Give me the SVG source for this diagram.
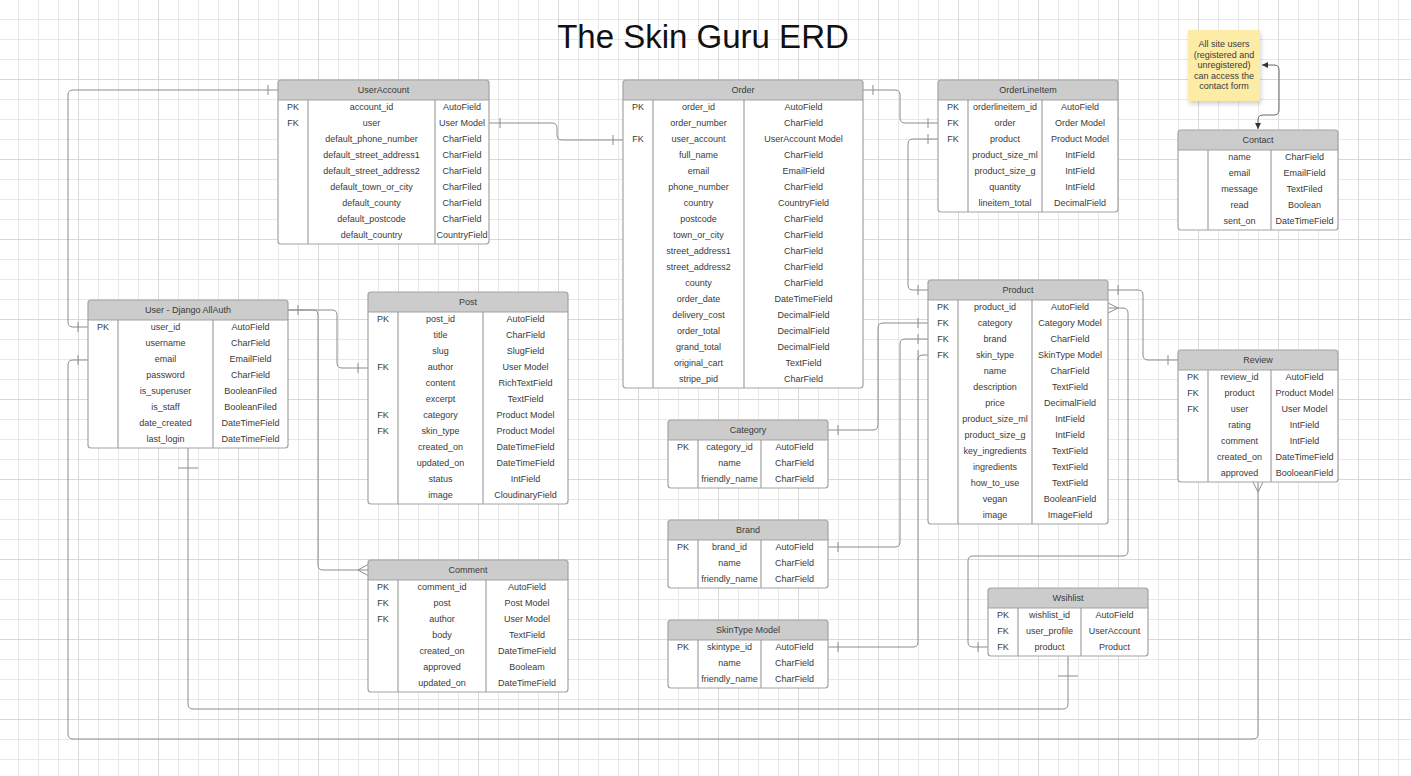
<svg xmlns="http://www.w3.org/2000/svg" width="1411" height="776" viewBox="0 0 1411 776">
<style>
.bg{fill:#fff}
.ol{fill:none;stroke:#a3a3a3;stroke-width:1.2}
.hd{fill:#cccccc}
.sep{stroke:#a3a3a3;stroke-width:1}
.col{stroke:#8f8f8f;stroke-width:1}
text{font-family:"Liberation Sans",Arial,sans-serif;font-size:9px;fill:#3a3a3a;text-anchor:middle}
.title{font-size:33px;fill:#111}
#connectors path,#connectors line{fill:none;stroke:#8c8c8c;stroke-width:1}
#connectors path.note{stroke:#666}
</style>
<defs>
<pattern id="grid" x="-2" y="-1" width="80" height="80" patternUnits="userSpaceOnUse">
<rect x="20" y="0" width="1" height="80" fill="#e8e8e8"/>
<rect x="40" y="0" width="1" height="80" fill="#e8e8e8"/>
<rect x="60" y="0" width="1" height="80" fill="#e8e8e8"/>
<rect x="0" y="20" width="80" height="1" fill="#e8e8e8"/>
<rect x="0" y="40" width="80" height="1" fill="#e8e8e8"/>
<rect x="0" y="60" width="80" height="1" fill="#e8e8e8"/>
<rect x="0" y="0" width="1" height="80" fill="#d9d9d9"/>
<rect x="0" y="0" width="80" height="1" fill="#d9d9d9"/>
</pattern>
<marker id="arr" markerWidth="6" markerHeight="6" refX="6" refY="3" orient="auto-start-reverse" markerUnits="userSpaceOnUse">
<path d="M0,0 L6,3 L0,6 Z" fill="#333"/>
</marker>
<filter id="shadow" x="-20%" y="-20%" width="150%" height="150%">
<feDropShadow dx="1" dy="3" stdDeviation="2" flood-color="#000" flood-opacity="0.18"/>
</filter>
</defs>
<rect width="1411" height="776" fill="#fff"/>
<rect width="1411" height="776" fill="url(#grid)"/>

<text class="title" x="703" y="48">The Skin Guru ERD</text>

<g id="connectors">
<!-- C1 UserAccount -> User PK -->
<path d="M278,90 H73 Q68,90 68,95 V322 Q68,327 73,327 H88"/>
<line x1="268" y1="85" x2="268" y2="95"/>
<line x1="78" y1="322" x2="78" y2="332"/>
<!-- C2 User email -> Review -->
<path d="M88,360 H73 Q68,360 68,365 V734 Q68,739 73,739 H1253 Q1258,739 1258,734 V482"/>
<line x1="78" y1="355" x2="78" y2="365"/>
<path d="M1253,482 L1258,492 L1263,482"/>
<!-- C3 User bottom -> Wishlist bottom -->
<path d="M188,448 V704 Q188,709 193,709 H1063 Q1068,709 1068,704 V656"/>
<line x1="178" y1="468" x2="198" y2="468"/>
<line x1="1058" y1="676" x2="1078" y2="676"/>
<!-- C4 User -> Comment -->
<path d="M288,310 H313 Q318,310 318,315 V565 Q318,570 323,570 H368"/>
<line x1="298" y1="305" x2="298" y2="315"/>
<path d="M368,564.5 L358,570 L368,575.5"/>
<!-- C5 User -> Post author -->
<path d="M288,310 H332 Q337,310 337,315 V363 Q337,368 342,368 H368"/>
<line x1="358" y1="363" x2="358" y2="373"/>
<!-- C6 UserAccount user -> Order user_account -->
<path d="M489,123 H552 Q557,123 557,128 V135 Q557,140 562,140 H623"/>
<line x1="500" y1="118" x2="500" y2="128"/>
<line x1="613" y1="135" x2="613" y2="145"/>
<!-- C7 Order -> OrderLineItem order -->
<path d="M863,90 H895 Q900,90 900,95 V118 Q900,123 905,123 H938"/>
<line x1="873" y1="85" x2="873" y2="95"/>
<line x1="928" y1="118" x2="928" y2="128"/>
<!-- C8 OrderLineItem product -> Product -->
<path d="M938,139 H913 Q908,139 908,144 V285 Q908,290 913,290 H928"/>
<line x1="928" y1="134" x2="928" y2="144"/>
<line x1="918" y1="285" x2="918" y2="295"/>
<!-- C9 Category -> Product category -->
<path d="M828,430 H873 Q878,430 878,425 V328 Q878,323 883,323 H928"/>
<line x1="838" y1="425" x2="838" y2="435"/>
<line x1="918" y1="318" x2="918" y2="328"/>
<!-- C10 Brand -> Product brand -->
<path d="M828,547 H895 Q900,547 900,542 V344 Q900,339 905,339 H928"/>
<line x1="838" y1="542" x2="838" y2="552"/>
<line x1="918" y1="334" x2="918" y2="344"/>
<!-- C11 SkinType -> Product skin_type -->
<path d="M828,647 H913 Q918,647 918,642 V360 Q918,355 923,355 H928"/>
<line x1="838" y1="642" x2="838" y2="652"/>
<line x1="918" y1="350" x2="918" y2="360"/>
<!-- C12 Product -> Review -->
<path d="M1108,290 H1138 Q1143,290 1143,295 V355 Q1143,360 1148,360 H1178"/>
<line x1="1118" y1="285" x2="1118" y2="295"/>
<line x1="1168" y1="355" x2="1168" y2="365"/>
<!-- C13 Product -> Wishlist product -->
<path d="M1108,308 H1123 Q1128,308 1128,313 V551 Q1128,556 1123,556 H973 Q968,556 968,561 V642 Q968,647 973,647 H988"/>
<path d="M1108,303 L1118,308 L1108,313"/>
<line x1="978" y1="642" x2="978" y2="652"/>
<!-- Note <-> Contact -->
<path class="note" d="M1262,65 H1274 Q1279,65 1279,70 V110 Q1279,115 1274,115 H1263 Q1258,115 1258,120 V129" marker-start="url(#arr)" marker-end="url(#arr)"/>
</g>

<g id="note">
<rect x="1188" y="30" width="72" height="71" fill="#fdeca6" filter="url(#shadow)"/>
<text x="1224" y="47">All site users</text>
<text x="1224" y="57.5">(registered and</text>
<text x="1224" y="68">unregistered)</text>
<text x="1224" y="78.5">can access the</text>
<text x="1224" y="89">contact form</text>
</g>

<g id="useraccount">
<rect class="bg" x="278" y="80" width="211" height="164" rx="3"/>
<path class="hd" d="M278,100 V83 Q278,80 281,80 H486 Q489,80 489,83 V100 Z"/>
<line class="sep" x1="278" y1="100" x2="489" y2="100"/>
<line class="col" x1="308" y1="100" x2="308" y2="244"/>
<line class="col" x1="435" y1="100" x2="435" y2="244"/>
<rect class="ol" x="278" y="80" width="211" height="164" rx="3"/>
<text x="383.5" y="93">UserAccount</text>
<text x="293" y="110">PK</text><text x="371.5" y="110">account_id</text><text x="462" y="110">AutoField</text>
<text x="293" y="126">FK</text><text x="371.5" y="126">user</text><text x="462" y="126">User Model</text>
<text x="371.5" y="142">default_phone_number</text><text x="462" y="142">CharField</text>
<text x="371.5" y="158">default_street_address1</text><text x="462" y="158">CharField</text>
<text x="371.5" y="174">default_street_address2</text><text x="462" y="174">CharField</text>
<text x="371.5" y="190">default_town_or_city</text><text x="462" y="190">CharFiled</text>
<text x="371.5" y="206">default_county</text><text x="462" y="206">CharField</text>
<text x="371.5" y="222">default_postcode</text><text x="462" y="222">CharField</text>
<text x="371.5" y="238">default_country</text><text x="462" y="238">CountryField</text>
</g>

<g id="order">
<rect class="bg" x="623" y="80" width="240" height="308" rx="3"/>
<path class="hd" d="M623,100 V83 Q623,80 626,80 H860 Q863,80 863,83 V100 Z"/>
<line class="sep" x1="623" y1="100" x2="863" y2="100"/>
<line class="col" x1="653" y1="100" x2="653" y2="388"/>
<line class="col" x1="744" y1="100" x2="744" y2="388"/>
<rect class="ol" x="623" y="80" width="240" height="308" rx="3"/>
<text x="743" y="93">Order</text>
<text x="638" y="110">PK</text><text x="698.5" y="110">order_id</text><text x="803.5" y="110">AutoField</text>
<text x="698.5" y="126">order_number</text><text x="803.5" y="126">CharField</text>
<text x="638" y="142">FK</text><text x="698.5" y="142">user_account</text><text x="803.5" y="142">UserAccount Model</text>
<text x="698.5" y="158">full_name</text><text x="803.5" y="158">CharField</text>
<text x="698.5" y="174">email</text><text x="803.5" y="174">EmailField</text>
<text x="698.5" y="190">phone_number</text><text x="803.5" y="190">CharField</text>
<text x="698.5" y="206">country</text><text x="803.5" y="206">CountryField</text>
<text x="698.5" y="222">postcode</text><text x="803.5" y="222">CharField</text>
<text x="698.5" y="238">town_or_city</text><text x="803.5" y="238">CharField</text>
<text x="698.5" y="254">street_address1</text><text x="803.5" y="254">CharField</text>
<text x="698.5" y="270">street_address2</text><text x="803.5" y="270">CharField</text>
<text x="698.5" y="286">county</text><text x="803.5" y="286">CharField</text>
<text x="698.5" y="302">order_date</text><text x="803.5" y="302">DateTimeField</text>
<text x="698.5" y="318">delivery_cost</text><text x="803.5" y="318">DecimalField</text>
<text x="698.5" y="334">order_total</text><text x="803.5" y="334">DecimalField</text>
<text x="698.5" y="350">grand_total</text><text x="803.5" y="350">DecimalField</text>
<text x="698.5" y="366">original_cart</text><text x="803.5" y="366">TextField</text>
<text x="698.5" y="382">stripe_pid</text><text x="803.5" y="382">CharField</text>
</g>

<g id="orderlineitem">
<rect class="bg" x="938" y="80" width="180" height="132" rx="3"/>
<path class="hd" d="M938,100 V83 Q938,80 941,80 H1115 Q1118,80 1118,83 V100 Z"/>
<line class="sep" x1="938" y1="100" x2="1118" y2="100"/>
<line class="col" x1="968" y1="100" x2="968" y2="212"/>
<line class="col" x1="1042" y1="100" x2="1042" y2="212"/>
<rect class="ol" x="938" y="80" width="180" height="132" rx="3"/>
<text x="1028" y="93">OrderLineItem</text>
<text x="953" y="110">PK</text><text x="1005" y="110">orderlineitem_id</text><text x="1080" y="110">AutoField</text>
<text x="953" y="126">FK</text><text x="1005" y="126">order</text><text x="1080" y="126">Order Model</text>
<text x="953" y="142">FK</text><text x="1005" y="142">product</text><text x="1080" y="142">Product Model</text>
<text x="1005" y="158">product_size_ml</text><text x="1080" y="158">IntField</text>
<text x="1005" y="174">product_size_g</text><text x="1080" y="174">IntField</text>
<text x="1005" y="190">quantity</text><text x="1080" y="190">IntField</text>
<text x="1005" y="206">lineitem_total</text><text x="1080" y="206">DecimalField</text>
</g>

<g id="contact">
<rect class="bg" x="1178" y="130" width="160" height="100" rx="3"/>
<path class="hd" d="M1178,150 V133 Q1178,130 1181,130 H1335 Q1338,130 1338,133 V150 Z"/>
<line class="sep" x1="1178" y1="150" x2="1338" y2="150"/>
<line class="col" x1="1208" y1="150" x2="1208" y2="230"/>
<line class="col" x1="1271" y1="150" x2="1271" y2="230"/>
<rect class="ol" x="1178" y="130" width="160" height="100" rx="3"/>
<text x="1258" y="143">Contact</text>
<text x="1239.5" y="160">name</text><text x="1304.5" y="160">CharField</text>
<text x="1239.5" y="176">email</text><text x="1304.5" y="176">EmailField</text>
<text x="1239.5" y="192">message</text><text x="1304.5" y="192">TextFiled</text>
<text x="1239.5" y="208">read</text><text x="1304.5" y="208">Boolean</text>
<text x="1239.5" y="224">sent_on</text><text x="1304.5" y="224">DateTimeField</text>
</g>

<g id="user">
<rect class="bg" x="88" y="300" width="200" height="148" rx="3"/>
<path class="hd" d="M88,320 V303 Q88,300 91,300 H285 Q288,300 288,303 V320 Z"/>
<line class="sep" x1="88" y1="320" x2="288" y2="320"/>
<line class="col" x1="118" y1="320" x2="118" y2="448"/>
<line class="col" x1="213" y1="320" x2="213" y2="448"/>
<rect class="ol" x="88" y="300" width="200" height="148" rx="3"/>
<text x="188" y="313">User - Django AllAuth</text>
<text x="103" y="330">PK</text><text x="165.5" y="330">user_id</text><text x="250.5" y="330">AutoField</text>
<text x="165.5" y="346">username</text><text x="250.5" y="346">CharField</text>
<text x="165.5" y="362">email</text><text x="250.5" y="362">EmailField</text>
<text x="165.5" y="378">password</text><text x="250.5" y="378">CharField</text>
<text x="165.5" y="394">is_superuser</text><text x="250.5" y="394">BooleanFiled</text>
<text x="165.5" y="410">is_staff</text><text x="250.5" y="410">BooleanFiled</text>
<text x="165.5" y="426">date_created</text><text x="250.5" y="426">DateTimeField</text>
<text x="165.5" y="442">last_login</text><text x="250.5" y="442">DateTimeField</text>
</g>

<g id="post">
<rect class="bg" x="368" y="292" width="200" height="212" rx="3"/>
<path class="hd" d="M368,312 V295 Q368,292 371,292 H565 Q568,292 568,295 V312 Z"/>
<line class="sep" x1="368" y1="312" x2="568" y2="312"/>
<line class="col" x1="398" y1="312" x2="398" y2="504"/>
<line class="col" x1="483" y1="312" x2="483" y2="504"/>
<rect class="ol" x="368" y="292" width="200" height="212" rx="3"/>
<text x="468" y="305">Post</text>
<text x="383" y="322">PK</text><text x="440.5" y="322">post_id</text><text x="525.5" y="322">AutoField</text>
<text x="440.5" y="338">title</text><text x="525.5" y="338">CharField</text>
<text x="440.5" y="354">slug</text><text x="525.5" y="354">SlugField</text>
<text x="383" y="370">FK</text><text x="440.5" y="370">author</text><text x="525.5" y="370">User Model</text>
<text x="440.5" y="386">content</text><text x="525.5" y="386">RichTextField</text>
<text x="440.5" y="402">excerpt</text><text x="525.5" y="402">TextField</text>
<text x="383" y="418">FK</text><text x="440.5" y="418">category</text><text x="525.5" y="418">Product Model</text>
<text x="383" y="434">FK</text><text x="440.5" y="434">skin_type</text><text x="525.5" y="434">Product Model</text>
<text x="440.5" y="450">created_on</text><text x="525.5" y="450">DateTimeField</text>
<text x="440.5" y="466">updated_on</text><text x="525.5" y="466">DateTimeField</text>
<text x="440.5" y="482">status</text><text x="525.5" y="482">IntField</text>
<text x="440.5" y="498">image</text><text x="525.5" y="498">CloudinaryField</text>
</g>

<g id="comment">
<rect class="bg" x="368" y="560" width="200" height="132" rx="3"/>
<path class="hd" d="M368,580 V563 Q368,560 371,560 H565 Q568,560 568,563 V580 Z"/>
<line class="sep" x1="368" y1="580" x2="568" y2="580"/>
<line class="col" x1="398" y1="580" x2="398" y2="692"/>
<line class="col" x1="486" y1="580" x2="486" y2="692"/>
<rect class="ol" x="368" y="560" width="200" height="132" rx="3"/>
<text x="468" y="573">Comment</text>
<text x="383" y="590">PK</text><text x="442" y="590">comment_id</text><text x="527" y="590">AutoField</text>
<text x="383" y="606">FK</text><text x="442" y="606">post</text><text x="527" y="606">Post Model</text>
<text x="383" y="622">FK</text><text x="442" y="622">author</text><text x="527" y="622">User Model</text>
<text x="442" y="638">body</text><text x="527" y="638">TextField</text>
<text x="442" y="654">created_on</text><text x="527" y="654">DateTimeField</text>
<text x="442" y="670">approved</text><text x="527" y="670">Booleam</text>
<text x="442" y="686">updated_on</text><text x="527" y="686">DateTimeField</text>
</g>

<g id="category">
<rect class="bg" x="668" y="420" width="160" height="68" rx="3"/>
<path class="hd" d="M668,440 V423 Q668,420 671,420 H825 Q828,420 828,423 V440 Z"/>
<line class="sep" x1="668" y1="440" x2="828" y2="440"/>
<line class="col" x1="698" y1="440" x2="698" y2="488"/>
<line class="col" x1="761" y1="440" x2="761" y2="488"/>
<rect class="ol" x="668" y="420" width="160" height="68" rx="3"/>
<text x="748" y="433">Category</text>
<text x="683" y="450">PK</text><text x="729.5" y="450">category_id</text><text x="794.5" y="450">AutoField</text>
<text x="729.5" y="466">name</text><text x="794.5" y="466">CharField</text>
<text x="729.5" y="482">friendly_name</text><text x="794.5" y="482">CharField</text>
</g>

<g id="brand">
<rect class="bg" x="668" y="520" width="160" height="68" rx="3"/>
<path class="hd" d="M668,540 V523 Q668,520 671,520 H825 Q828,520 828,523 V540 Z"/>
<line class="sep" x1="668" y1="540" x2="828" y2="540"/>
<line class="col" x1="698" y1="540" x2="698" y2="588"/>
<line class="col" x1="761" y1="540" x2="761" y2="588"/>
<rect class="ol" x="668" y="520" width="160" height="68" rx="3"/>
<text x="748" y="533">Brand</text>
<text x="683" y="550">PK</text><text x="729.5" y="550">brand_id</text><text x="794.5" y="550">AutoField</text>
<text x="729.5" y="566">name</text><text x="794.5" y="566">CharField</text>
<text x="729.5" y="582">friendly_name</text><text x="794.5" y="582">CharField</text>
</g>

<g id="skintype">
<rect class="bg" x="668" y="620" width="160" height="68" rx="3"/>
<path class="hd" d="M668,640 V623 Q668,620 671,620 H825 Q828,620 828,623 V640 Z"/>
<line class="sep" x1="668" y1="640" x2="828" y2="640"/>
<line class="col" x1="698" y1="640" x2="698" y2="688"/>
<line class="col" x1="761" y1="640" x2="761" y2="688"/>
<rect class="ol" x="668" y="620" width="160" height="68" rx="3"/>
<text x="748" y="633">SkinType Model</text>
<text x="683" y="650">PK</text><text x="729.5" y="650">skintype_id</text><text x="794.5" y="650">AutoField</text>
<text x="729.5" y="666">name</text><text x="794.5" y="666">CharField</text>
<text x="729.5" y="682">friendly_name</text><text x="794.5" y="682">CharField</text>
</g>

<g id="product">
<rect class="bg" x="928" y="280" width="180" height="244" rx="3"/>
<path class="hd" d="M928,300 V283 Q928,280 931,280 H1105 Q1108,280 1108,283 V300 Z"/>
<line class="sep" x1="928" y1="300" x2="1108" y2="300"/>
<line class="col" x1="958" y1="300" x2="958" y2="524"/>
<line class="col" x1="1032" y1="300" x2="1032" y2="524"/>
<rect class="ol" x="928" y="280" width="180" height="244" rx="3"/>
<text x="1018" y="293">Product</text>
<text x="943" y="310">PK</text><text x="995" y="310">product_id</text><text x="1070" y="310">AutoField</text>
<text x="943" y="326">FK</text><text x="995" y="326">category</text><text x="1070" y="326">Category Model</text>
<text x="943" y="342">FK</text><text x="995" y="342">brand</text><text x="1070" y="342">CharField</text>
<text x="943" y="358">FK</text><text x="995" y="358">skin_type</text><text x="1070" y="358">SkinType Model</text>
<text x="995" y="374">name</text><text x="1070" y="374">CharField</text>
<text x="995" y="390">description</text><text x="1070" y="390">TextField</text>
<text x="995" y="406">price</text><text x="1070" y="406">DecimalField</text>
<text x="995" y="422">product_size_ml</text><text x="1070" y="422">IntField</text>
<text x="995" y="438">product_size_g</text><text x="1070" y="438">IntField</text>
<text x="995" y="454">key_ingredients</text><text x="1070" y="454">TextField</text>
<text x="995" y="470">ingredients</text><text x="1070" y="470">TextField</text>
<text x="995" y="486">how_to_use</text><text x="1070" y="486">TextField</text>
<text x="995" y="502">vegan</text><text x="1070" y="502">BooleanField</text>
<text x="995" y="518">image</text><text x="1070" y="518">ImageField</text>
</g>

<g id="review">
<rect class="bg" x="1178" y="350" width="160" height="132" rx="3"/>
<path class="hd" d="M1178,370 V353 Q1178,350 1181,350 H1335 Q1338,350 1338,353 V370 Z"/>
<line class="sep" x1="1178" y1="370" x2="1338" y2="370"/>
<line class="col" x1="1208" y1="370" x2="1208" y2="482"/>
<line class="col" x1="1271" y1="370" x2="1271" y2="482"/>
<rect class="ol" x="1178" y="350" width="160" height="132" rx="3"/>
<text x="1258" y="363">Review</text>
<text x="1193" y="380">PK</text><text x="1239.5" y="380">review_id</text><text x="1304.5" y="380">AutoField</text>
<text x="1193" y="396">FK</text><text x="1239.5" y="396">product</text><text x="1304.5" y="396">Product Model</text>
<text x="1193" y="412">FK</text><text x="1239.5" y="412">user</text><text x="1304.5" y="412">User Model</text>
<text x="1239.5" y="428">rating</text><text x="1304.5" y="428">IntField</text>
<text x="1239.5" y="444">comment</text><text x="1304.5" y="444">IntField</text>
<text x="1239.5" y="460">created_on</text><text x="1304.5" y="460">DateTimeField</text>
<text x="1239.5" y="476">approved</text><text x="1304.5" y="476">BooloeanField</text>
</g>

<g id="wishlist">
<rect class="bg" x="988" y="588" width="160" height="68" rx="3"/>
<path class="hd" d="M988,608 V591 Q988,588 991,588 H1145 Q1148,588 1148,591 V608 Z"/>
<line class="sep" x1="988" y1="608" x2="1148" y2="608"/>
<line class="col" x1="1018" y1="608" x2="1018" y2="656"/>
<line class="col" x1="1081" y1="608" x2="1081" y2="656"/>
<rect class="ol" x="988" y="588" width="160" height="68" rx="3"/>
<text x="1068" y="601">Wsihlist</text>
<text x="1003" y="618">PK</text><text x="1049.5" y="618">wishlist_id</text><text x="1114.5" y="618">AutoField</text>
<text x="1003" y="634">FK</text><text x="1049.5" y="634">user_profile</text><text x="1114.5" y="634">UserAccount</text>
<text x="1003" y="650">FK</text><text x="1049.5" y="650">product</text><text x="1114.5" y="650">Product</text>
</g>
</svg>
